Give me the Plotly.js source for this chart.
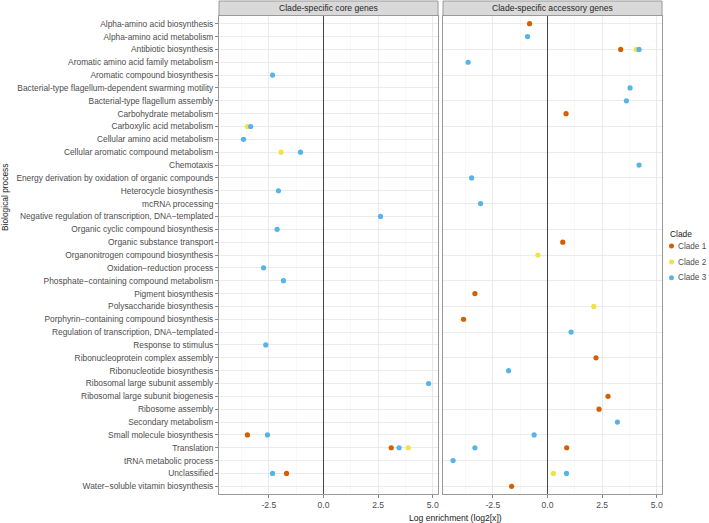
<!DOCTYPE html>
<html>
<head>
<meta charset="utf-8">
<script src="https://cdn.plot.ly/plotly-3.0.1.min.js"></script>
<style>html,body{margin:0;padding:0;background:#fff;}#chart{width:709px;height:523px;}</style>
</head>
<body>
<div id="chart"></div>
<script>
// ---- Data ----
const categories = [
  "Alpha-amino acid biosynthesis",
  "Alpha-amino acid metabolism",
  "Antibiotic biosynthesis",
  "Aromatic amino acid family metabolism",
  "Aromatic compound biosynthesis",
  "Bacterial-type flagellum-dependent swarming motility",
  "Bacterial-type flagellum assembly",
  "Carbohydrate metabolism",
  "Carboxylic acid metabolism",
  "Cellular amino acid metabolism",
  "Cellular aromatic compound metabolism",
  "Chemotaxis",
  "Energy derivation by oxidation of organic compounds",
  "Heterocycle biosynthesis",
  "mcRNA processing",
  "Negative regulation of transcription, DNA\u2212templated",
  "Organic cyclic compound biosynthesis",
  "Organic substance transport",
  "Organonitrogen compound biosynthesis",
  "Oxidation\u2212reduction process",
  "Phosphate\u2212containing compound metabolism",
  "Pigment biosynthesis",
  "Polysaccharide biosynthesis",
  "Porphyrin\u2212containing compound biosynthesis",
  "Regulation of transcription, DNA\u2212templated",
  "Response to stimulus",
  "Ribonucleoprotein complex assembly",
  "Ribonucleotide biosynthesis",
  "Ribosomal large subunit assembly",
  "Ribosomal large subunit biogenesis",
  "Ribosome assembly",
  "Secondary metabolism",
  "Small molecule biosynthesis",
  "Translation",
  "tRNA metabolic process",
  "Unclassified",
  "Water\u2212soluble vitamin biosynthesis"
];

const panelTitles = ["Clade-specific core genes", "Clade-specific accessory genes"];
const cladeNames = ["Clade 1", "Clade 2", "Clade 3"];
const cladeColors = ["#D55E00", "#F0E442", "#56B4E9"];

// Core genes panel
const coreClade1Terms = ["Small molecule biosynthesis", "Translation", "Unclassified"];
const coreClade1Values = [-3.48, 3.10, -1.69];

const coreClade2Terms = ["Carboxylic acid metabolism", "Cellular aromatic compound metabolism", "Translation"];
const coreClade2Values = [-3.48, -1.94, 3.88];

const coreClade3Terms = [
  "Aromatic compound biosynthesis",
  "Carboxylic acid metabolism",
  "Cellular amino acid metabolism",
  "Cellular aromatic compound metabolism",
  "Heterocycle biosynthesis",
  "Negative regulation of transcription, DNA\u2212templated",
  "Organic cyclic compound biosynthesis",
  "Oxidation\u2212reduction process",
  "Phosphate\u2212containing compound metabolism",
  "Response to stimulus",
  "Ribosomal large subunit assembly",
  "Small molecule biosynthesis",
  "Translation",
  "Unclassified"
];
const coreClade3Values = [-2.33, -3.33, -3.66, -1.05, -2.06, 2.61, -2.12, -2.74, -1.83, -2.64, 4.81, -2.56, 3.46, -2.33];

// Accessory genes panel
const accClade1Terms = [
  "Alpha-amino acid biosynthesis",
  "Antibiotic biosynthesis",
  "Carbohydrate metabolism",
  "Organic substance transport",
  "Pigment biosynthesis",
  "Porphyrin\u2212containing compound biosynthesis",
  "Ribonucleoprotein complex assembly",
  "Ribosomal large subunit biogenesis",
  "Ribosome assembly",
  "Translation",
  "Water\u2212soluble vitamin biosynthesis"
];
const accClade1Values = [-0.82, 3.35, 0.85, 0.70, -3.32, -3.84, 2.22, 2.77, 2.36, 0.88, -1.64];

const accClade2Terms = [
  "Antibiotic biosynthesis",
  "Organonitrogen compound biosynthesis",
  "Polysaccharide biosynthesis",
  "Unclassified"
];
const accClade2Values = [4.06, -0.44, 2.12, 0.27];

const accClade3Terms = [
  "Alpha-amino acid metabolism",
  "Antibiotic biosynthesis",
  "Aromatic amino acid family metabolism",
  "Bacterial-type flagellum-dependent swarming motility",
  "Bacterial-type flagellum assembly",
  "Chemotaxis",
  "Energy derivation by oxidation of organic compounds",
  "mcRNA processing",
  "Regulation of transcription, DNA\u2212templated",
  "Ribonucleotide biosynthesis",
  "Secondary metabolism",
  "Small molecule biosynthesis",
  "Translation",
  "tRNA metabolic process",
  "Unclassified"
];
const accClade3Values = [-0.91, 4.19, -3.63, 3.78, 3.61, 4.19, -3.47, -3.06, 1.08, -1.78, 3.20, -0.61, -3.32, -4.32, 0.87];

const xTickVals = [-2.5, 0, 2.5, 5];
const xTickText = ["-2.5", "0.0", "2.5", "5.0"];

// ---- Layout geometry (pixels) ----
const W = 709, H = 523;
const M = {l: 219, r: 47, t: 16, b: 29};
const PW = W - M.l - M.r, PH = H - M.t - M.b;
const px = v => (v - M.l) / PW;      // pixel x -> paper
const py = v => (H - M.b - v) / PH;  // pixel y -> paper

const FONT = "Liberation Sans, Arial, Helvetica, sans-serif";
const TXT = "#4d4d4d";
const BORDER = "#9a9a9a";

function mk(terms, values, ci, xa, ya) {
  return {
    type: "scatter", mode: "markers",
    x: values, y: terms,
    xaxis: xa, yaxis: ya,
    name: cladeNames[ci],
    showlegend: false,
    marker: {color: cladeColors[ci], size: 5.2, line: {width: 0}},
    hoverinfo: "x+y+name"
  };
}

const traces = [
  mk(coreClade1Terms, coreClade1Values, 0, "x", "y"),
  mk(coreClade2Terms, coreClade2Values, 1, "x", "y"),
  mk(coreClade3Terms, coreClade3Values, 2, "x", "y"),
  mk(accClade1Terms, accClade1Values, 0, "x2", "y2"),
  mk(accClade2Terms, accClade2Values, 1, "x2", "y2"),
  mk(accClade3Terms, accClade3Values, 2, "x2", "y2")
];

const xRange = [-4.78, 5.24];
const xBase = {
  range: xRange,
  tickvals: xTickVals, ticktext: xTickText,
  ticks: "outside", ticklen: 3, tickwidth: 0.8, tickcolor: "#666",
  tickfont: {family: FONT, size: 8.6, color: TXT},
  showgrid: true, gridcolor: "#e6e6e6", gridwidth: 0.8,
  minor: {dtick: 1.25, tick0: 0, showgrid: true, gridcolor: "#f1f1f1", gridwidth: 0.5},
  zeroline: true, zerolinecolor: "#454545", zerolinewidth: 1.4,
  showline: true, mirror: true, linecolor: BORDER, linewidth: 1,
  fixedrange: true
};
const yRange = [categories.length - 1 + 0.6, -0.6];
const yBase = {
  type: "category",
  categoryorder: "array", categoryarray: categories,
  range: yRange,
  showgrid: true, gridcolor: "#e6e6e6", gridwidth: 0.8,
  showline: true, mirror: true, linecolor: BORDER, linewidth: 1,
  zeroline: false,
  fixedrange: true
};

const d1 = [0, px(438)], d2 = [px(443), 1];

const shapes = [];
const annotations = [];
[d1, d2].forEach((d, i) => {
  shapes.push({type: "rect", xref: "paper", yref: "paper",
    x0: d[0], x1: d[1], y0: 1 + 0.5 / PH, y1: py(1),
    fillcolor: "#d9d9d9", line: {color: BORDER, width: 1}, layer: "above"});
  annotations.push({xref: "paper", yref: "paper", x: (d[0] + d[1]) / 2, y: py(8.5),
    text: panelTitles[i], showarrow: false, xanchor: "center", yanchor: "middle",
    font: {family: FONT, size: 8.6, color: "#262626"}});
});

// axis titles
annotations.push({xref: "paper", yref: "paper", x: px(455), y: py(518),
  text: "Log enrichment (log2[x])", showarrow: false, xanchor: "center", yanchor: "middle",
  font: {family: FONT, size: 8.6, color: "#1a1a1a"}});
annotations.push({xref: "paper", yref: "paper", x: px(5), y: py(197),
  text: "Biological process", textangle: -90, showarrow: false, xanchor: "center", yanchor: "middle",
  font: {family: FONT, size: 8.4, color: "#1a1a1a"}});

// legend (drawn as keys + labels)
annotations.push({xref: "paper", yref: "paper", x: px(668), y: py(234),
  text: "Clade", showarrow: false, xanchor: "left", yanchor: "middle",
  font: {family: FONT, size: 8.4, color: "#1a1a1a"}});
const legY = [246, 262, 277.7];
cladeNames.forEach((n, i) => {
  shapes.push({type: "circle", xref: "paper", yref: "paper",
    xsizemode: "pixel", ysizemode: "pixel",
    xanchor: px(671.5), yanchor: py(legY[i]),
    x0: -2.5, x1: 2.5, y0: -2.5, y1: 2.5,
    fillcolor: cladeColors[i], line: {width: 0}});
  annotations.push({xref: "paper", yref: "paper", x: px(675.5), y: py(legY[i]),
    text: n, showarrow: false, xanchor: "left", yanchor: "middle",
    font: {family: FONT, size: 8.2, color: TXT}});
});

const layout = {
  width: W, height: H,
  margin: M,
  paper_bgcolor: "#ffffff", plot_bgcolor: "#ffffff",
  font: {family: FONT, size: 8.6, color: TXT},
  showlegend: false,
  xaxis: Object.assign({}, xBase, {domain: d1, anchor: "y"}),
  xaxis2: Object.assign({}, xBase, {domain: d2, anchor: "y2"}),
  yaxis: Object.assign({}, yBase, {
    anchor: "x",
    ticks: "outside", ticklen: 3, tickwidth: 0.8, tickcolor: "#666",
    tickfont: {family: FONT, size: 8.4, color: TXT},
    showticklabels: true
  }),
  yaxis2: Object.assign({}, yBase, {anchor: "x2", showticklabels: false, ticks: "", matches: "y"}),
  shapes: shapes,
  annotations: annotations
};

Plotly.newPlot("chart", traces, layout, {displayModeBar: false, staticPlot: true});
</script>
</body>
</html>
